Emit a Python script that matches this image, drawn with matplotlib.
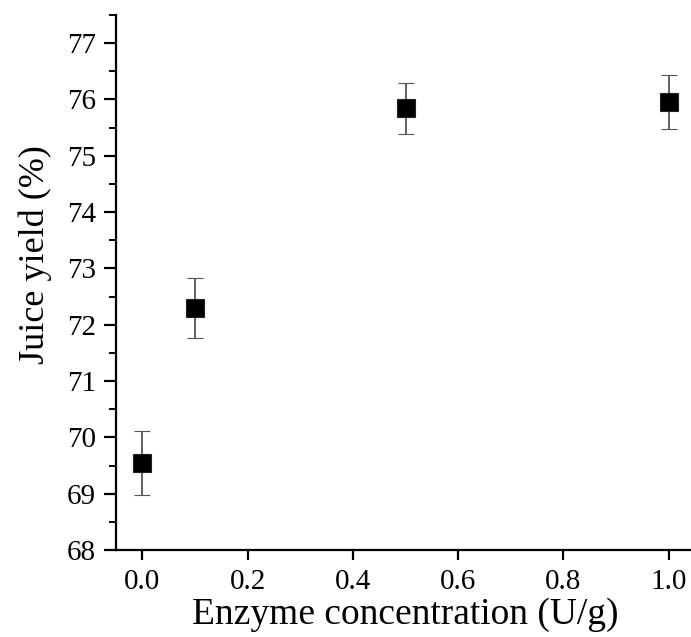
import matplotlib
matplotlib.use("Agg")
import matplotlib.pyplot as plt
from matplotlib.ticker import MultipleLocator

# Enzyme dose vs. juice yield (mean ± SD)
enzyme = [0.0, 0.1, 0.5, 1.0]
juice_yield = [69.54, 72.30, 75.84, 75.96]
yield_sd = [0.57, 0.53, 0.45, 0.48]

x_ticks = [0.0, 0.2, 0.4, 0.6, 0.8, 1.0]
x_tick_labels = ["0.0", "0.2", "0.4", "0.6", "0.8", "1.0"]
y_ticks = [68, 69, 70, 71, 72, 73, 74, 75, 76, 77]

plt.rcParams["font.family"] = ["Liberation Serif", "DejaVu Serif"]

fig = plt.figure(figsize=(6.91, 6.37), dpi=100)
ax = fig.add_axes([116 / 691, 87 / 637, 579 / 691, 535 / 637])

ax.errorbar(enzyme, juice_yield, yerr=yield_sd, fmt="s", color="black",
            markersize=12.5, markeredgecolor="#222222", markeredgewidth=0.8,
            ecolor="#555555", elinewidth=1.3, capsize=6, capthick=1.3,
            zorder=3)

ax.set_xlim(-0.05, 1.05)
ax.set_ylim(68, 77.5)
ax.set_xticks(x_ticks)
ax.set_xticklabels(x_tick_labels)
ax.set_yticks(y_ticks)
ax.yaxis.set_minor_locator(MultipleLocator(0.5))

for side in ("top", "right"):
    ax.spines[side].set_visible(False)
for side in ("left", "bottom"):
    ax.spines[side].set_linewidth(1.6)

ax.tick_params(axis="both", which="major", direction="out", length=8.5,
               width=1.6, labelsize=21, pad=6)
ax.tick_params(axis="x", which="major", length=7.5, pad=6)
ax.tick_params(axis="y", which="minor", direction="out", length=5, width=1.4)

ax.set_xlabel("Enzyme concentration (U/g)", fontsize=27, labelpad=2)
ax.set_ylabel("Juice yield (%)", fontsize=26)
ax.yaxis.set_label_coords(-0.11, 0.553)

fig.savefig("out.png", dpi=100, facecolor="white")
